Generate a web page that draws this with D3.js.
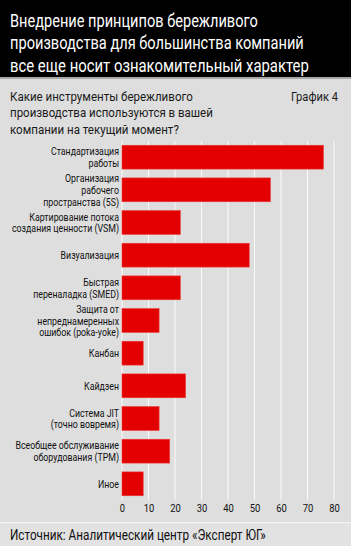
<!DOCTYPE html>
<html>
<head>
<meta charset="utf-8">
<script src="https://cdn.jsdelivr.net/npm/d3@7"></script>
<style>
  body { margin: 0; background: #fff; }
  svg text { font-family: Roboto, "Liberation Sans", sans-serif; }
</style>
</head>
<body>
<div id="chart"></div>
<script>
// data
const categories = [
  ["Стандартизация", "работы"],
  ["Организация", "рабочего", "пространства (5S)"],
  ["Картирование потока", "создания ценности (VSM)"],
  ["Визуализация"],
  ["Быстрая", "переналадка (SMED)"],
  ["Защита от", "непреднамеренных", "ошибок (poka-yoke)"],
  ["Канбан"],
  ["Кайдзен"],
  ["Система JIT", "(точно вовремя)"],
  ["Всеобщее обслуживание", "оборудования (TPM)"],
  ["Иное"]
];
const values = [76, 56, 22, 48, 22, 14, 8, 24, 14, 18, 8];
const xTicks = [0, 10, 20, 30, 40, 50, 60, 70, 80];

const titleLines = ["Внедрение принципов бережливого", "производства для большинства компаний", "все еще носит ознакомительный характер"];
const subtitleLines = ["Какие инструменты бережливого", "производства используются в вашей", "компании на текущий момент?"];
const chartNo = "График 4";
const source = "Источник: Аналитический центр «Эксперт ЮГ»";

const W = 351, H = 554;
const svg = d3.select("#chart").append("svg")
  .attr("width", W).attr("height", H);

// backgrounds
svg.append("rect").attr("width", W).attr("height", H).attr("fill", "#dedede");
svg.append("rect").attr("width", W).attr("height", 77).attr("fill", "#000");
svg.append("rect").attr("y", 77).attr("width", W).attr("height", 2).attr("fill", "#a8a8a8");
svg.append("rect").attr("y", 522).attr("width", W).attr("height", 1.5).attr("fill", "#f4f4f4");
svg.append("rect").attr("y", 523.5).attr("width", W).attr("height", 22.5).attr("fill", "#e2e2e2");
svg.append("rect").attr("y", 546).attr("width", W).attr("height", 8).attr("fill", "#fff");

// text squeezed horizontally to a measured width (condensed look)
function condensed(str, x0, y0, size, w, fill) {
  const t = svg.append("text")
    .attr("font-size", size).attr("fill", fill)
    .text(str);
  const sx = w / t.node().getComputedTextLength();
  t.attr("transform", `translate(${x0},${y0}) scale(${sx},1)`);
  return t;
}

// title
const titleW = [248, 294, 299];
titleLines.forEach((t, i) => condensed(t, 10, 27 + i * 22.3, 19, titleW[i], "#fff"));

// subtitle
const subW = [183, 203, 169];
subtitleLines.forEach((t, i) => condensed(t, 10, 101 + i * 16.3, 13, subW[i], "#1a1a1a"));
condensed(chartNo, 291, 101, 13, 47, "#1a1a1a");

// scales
const x = d3.scaleLinear().domain([0, 80]).range([122, 334]);
const y = d3.scaleBand()
  .domain(d3.range(categories.length))
  .range([141, 500])
  .paddingInner(0.27)
  .paddingOuter(0.13);

// gridlines
svg.append("g")
  .selectAll("line")
  .data(xTicks)
  .join("line")
    .attr("x1", d => x(d)).attr("x2", d => x(d))
    .attr("y1", 141).attr("y2", 500)
    .attr("stroke", "#fafafa").attr("stroke-width", 1);

// bars
svg.append("g")
  .selectAll("rect")
  .data(values)
  .join("rect")
    .attr("x", x(0))
    .attr("y", (d, i) => y(i))
    .attr("width", d => x(d) - x(0))
    .attr("height", y.bandwidth())
    .attr("fill", "#e20000")
    .attr("stroke", "#ee3a3a")
    .attr("stroke-width", 0.6);

// category labels
const lh = 12;
const labels = svg.append("g");
categories.forEach((lines, i) => {
  const cy = y(i) + y.bandwidth() / 2;
  const t = labels.append("text")
    .attr("transform", `translate(119,${cy}) scale(0.8,1)`)
    .attr("text-anchor", "end")
    .attr("font-size", 11)
    .attr("fill", "#111");
  lines.forEach((l, j) => {
    t.append("tspan")
      .attr("x", 0)
      .attr("y", (j - (lines.length - 1) / 2) * lh + 4)
      .text(l);
  });
});

// x axis labels
const xAxis = svg.append("g")
  .attr("transform", "translate(0,500)")
  .call(d3.axisBottom(x).tickValues(xTicks).tickSize(0).tickPadding(0));
xAxis.select(".domain").remove();
xAxis.selectAll("text")
  .attr("font-family", "Roboto, sans-serif")
  .attr("font-size", 11.5)
  .attr("fill", "#111")
  .attr("dy", null)
  .attr("y", 12.3)
  .attr("transform", "scale(0.82,1)");

// source
condensed(source, 10, 540, 15.5, 256, "#111");
</script>
</body>
</html>
